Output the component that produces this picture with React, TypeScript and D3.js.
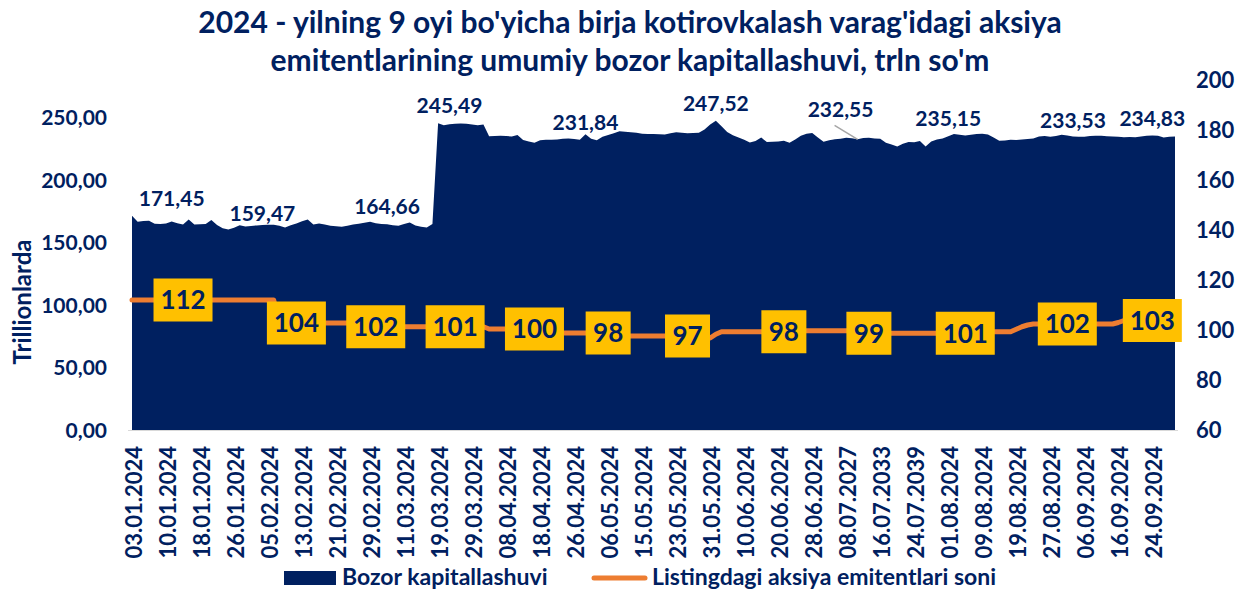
import React from "react";
import * as d3 from "d3";

const titleLines = [
  "2024 - yilning 9 oyi bo'yicha birja kotirovkalash varag'idagi aksiya",
  "emitentlarining umumiy bozor kapitallashuvi, trln so'm",
];

const tickLabels = [
  "03.01.2024", "10.01.2024", "18.01.2024", "26.01.2024", "05.02.2024", "13.02.2024",
  "21.02.2024", "29.02.2024", "11.03.2024", "19.03.2024", "29.03.2024", "08.04.2024",
  "18.04.2024", "26.04.2024", "06.05.2024", "15.05.2024", "23.05.2024", "31.05.2024",
  "10.06.2024", "20.06.2024", "28.06.2024", "08.07.2027", "16.07.2033", "24.07.2039",
  "01.08.2024", "09.08.2024", "19.08.2024", "27.08.2024", "06.09.2024", "16.09.2024",
  "24.09.2024",
];
const tickEvery = 6;

// Bozor kapitallashuvi, trln so'm (one value per trading day)
const capValues = [
  171.4, 166.6, 167.3, 167.5, 165.0, 164.8, 165.3, 166.8, 165.5, 164.5,
  168.5, 164.5, 164.6, 164.8, 168.0, 164.0, 161.5, 160.5, 161.9, 163.8,
  162.8, 163.3, 163.7, 164.0, 164.3, 164.3, 163.5, 162.1, 163.8, 165.3,
  167.0, 168.5, 164.5, 165.3, 164.5, 163.5, 163.0, 162.7, 163.5, 164.5,
  165.0, 165.8, 166.6, 165.5, 164.8, 164.7, 163.9, 163.5, 164.8, 166.0,
  163.6, 162.7, 162.1, 164.8, 245.5, 243.8, 244.6, 245.0, 245.2, 245.0,
  244.4, 243.8, 244.4, 235.0, 235.2, 235.4, 235.2, 234.8, 236.0, 232.0,
  230.8, 229.8, 231.8, 232.2, 232.3, 232.5, 233.0, 233.3, 232.8, 232.2,
  236.6, 233.0, 231.8, 234.6, 236.0, 237.5, 239.0, 238.6, 238.3, 237.8,
  237.0, 236.9, 236.8, 236.6, 236.4, 237.4, 238.3, 237.8, 237.4, 237.6,
  237.8, 240.5, 244.5, 247.5, 243.0, 238.5, 235.8, 234.0, 232.3, 230.0,
  231.2, 234.0, 230.4, 230.6, 230.8, 231.5, 229.8, 232.4, 235.5, 237.0,
  237.6, 234.0, 230.6, 231.8, 232.6, 233.0, 233.8, 233.4, 232.55, 233.6,
  233.8, 233.2, 233.0, 229.8, 228.5, 226.8, 229.0, 230.5, 230.2, 231.3,
  226.8, 230.8, 232.4, 233.2, 235.0, 236.9, 236.3, 235.6, 236.3, 236.9,
  237.0, 236.4, 234.0, 231.5, 231.6, 232.2, 232.0, 232.4, 232.8, 233.2,
  234.8, 235.2, 234.7, 235.3, 236.2, 235.6, 234.8, 234.6, 234.6, 235.2,
  235.5, 235.4, 235.1, 234.8, 234.6, 234.2, 234.4, 234.3, 234.8, 235.5,
  235.6, 235.4, 234.0, 234.6, 234.8,
];

// Listingdagi aksiya emitentlari soni
const issuerValues = [
  112, 112, 112, 112, 112, 112, 112, 112, 112, 112,
  112, 112, 112, 112, 112, 112, 112, 112, 112, 112,
  112, 112, 112, 112, 112, 112, 102.8, 102.8, 102.8, 102.8,
  102.8, 102.8, 102.8, 102.8, 102.8, 102.8, 102.8, 102.8, 102.8, 102.8,
  102.8, 101.3, 101.3, 101.3, 101.3, 101.3, 101.3, 101.3, 101.3, 101.3,
  101.3, 101.3, 101.3, 101.3, 101.3, 101.3, 101.3, 101.3, 101.3, 101.3,
  101.3, 101.3, 101.3, 100.4, 100.4, 100.4, 100.4, 100.4, 100.4, 100.4,
  100.4, 100.4, 100.4, 98.8, 98.8, 98.8, 98.8, 98.8, 98.8, 98.8,
  98.8, 98.8, 98.8, 98.8, 98.8, 98.8, 97.6, 97.6, 97.6, 97.6,
  97.6, 97.6, 97.6, 97.6, 97.6, 97.6, 97.6, 97.6, 97.6, 97.6,
  97.6, 97.6, 96.8, 98.3, 99.3, 99.3, 99.3, 99.3, 99.3, 99.3,
  99.3, 99.3, 99.3, 99.3, 99.3, 99.3, 99.3, 99.7, 99.7, 99.7,
  99.7, 99.7, 99.7, 99.7, 99.7, 99.7, 99.7, 99.7, 99.7, 99.7,
  98.7, 98.7, 98.7, 98.7, 98.7, 98.7, 98.7, 98.7, 98.7, 98.7,
  98.7, 98.7, 98.7, 98.7, 98.7, 98.7, 98.7, 98.7, 98.7, 98.7,
  98.7, 99.3, 99.3, 99.3, 99.3, 99.3, 100.3, 101.3, 102.0, 102.4,
  102.4, 102.4, 102.4, 102.4, 102.4, 102.4, 102.4, 102.4, 102.4, 102.4,
  102.4, 102.4, 102.4, 102.4, 103.0, 103.8, 103.8, 103.8, 103.8, 103.8,
  103.8, 103.8, 103.8, 103.8, 103.8,
];

const capLabelIndex = [7, 23, 45, 56, 80, 103, 125, 144, 166, 180];
const capLabelText = ["171,45", "159,47", "164,66", "245,49", "231,84", "247,52", "232,55", "235,15", "233,53", "234,83"];
const capLabelLeaderTo = [null, null, null, null, null, null, 128, null, null, null];

const issuerLabelIndex = [9, 29, 43, 57, 71, 84, 98, 115, 130, 147, 165, 180];
const issuerLabelText = ["112", "104", "102", "101", "100", "98", "97", "98", "99", "101", "102", "103"];

const leftTicks = [0, 50, 100, 150, 200, 250];
const rightTicks = [60, 80, 100, 120, 140, 160, 180, 200];

const legendNames = ["Bozor kapitallashuvi", "Listingdagi aksiya emitentlari soni"];

const W = 1240;
const H = 590;
const NAVY = "#002060";
const ORANGE = "#ED7D31";
const YELLOW = "#FFC000";
const FONT = "Lato, 'Open Sans', sans-serif";

export default function App() {
  const x = d3.scaleLinear().domain([0, capValues.length - 1]).range([132, 1175]);
  const yL = d3.scaleLinear().domain([0, 280]).range([430, 80]);
  const yR = d3.scaleLinear().domain([60, 200]).range([430, 80]);

  const areaGen = d3
    .area<number>()
    .x((_, i) => x(i))
    .y0(yL(0))
    .y1((d) => yL(d));
  const lineGen = d3
    .line<number>()
    .x((_, i) => x(i))
    .y((d) => yR(d));

  const fmtL = (v: number) => v.toFixed(2).replace(".", ",");
  const parseLab = (s: string) => parseFloat(s.replace(",", "."));

  const boxH = 43;

  return (
    <svg
      width={W}
      height={H}
      style={{ position: "absolute", left: 0, top: 0, display: "block", background: "#fff" }}
      fontFamily={FONT}
      fontWeight={700}
    >
      {/* title */}
      {titleLines.map((t, i) => (
        <text key={i} x={630} y={33 + i * 38} textAnchor="middle" fontSize={30} fill={NAVY}>
          {t}
        </text>
      ))}

      {/* area */}
      <path d={areaGen(capValues) || ""} fill={NAVY} />
      <line x1={128} x2={1178} y1={430.5} y2={430.5} stroke="#D9D9D9" strokeWidth={1} />

      {/* orange line */}
      <path
        d={lineGen(issuerValues) || ""}
        fill="none"
        stroke={ORANGE}
        strokeWidth={5}
        strokeLinecap="round"
        strokeLinejoin="round"
      />

      {/* issuer labels */}
      {issuerLabelIndex.map((idx, k) => {
        const t = issuerLabelText[k];
        const w = t.length === 2 ? 45 : 59;
        const cx = x(idx);
        const cy = yR(issuerValues[idx]);
        return (
          <g key={k}>
            <rect x={cx - w / 2} y={cy - boxH / 2} width={w} height={boxH} fill={YELLOW} />
            <text x={cx} y={cy} dy="0.36em" textAnchor="middle" fontSize={26} fill={NAVY}>
              {t}
            </text>
          </g>
        );
      })}

      {/* cap labels */}
      {capLabelIndex.map((idx, k) => {
        const v = parseLab(capLabelText[k]);
        const lt = capLabelLeaderTo[k];
        const by = yL(v) - (lt != null ? 22 : 10);
        return (
          <g key={k}>
            {lt != null && (
              <line
                x1={x(idx) - 6}
                y1={by + 8}
                x2={x(lt)}
                y2={yL(capValues[lt])}
                stroke="#A6A6A6"
                strokeWidth={1.5}
              />
            )}
            <text x={x(idx)} y={by} textAnchor="middle" fontSize={21} fill={NAVY}>
              {capLabelText[k]}
            </text>
          </g>
        );
      })}

      {/* left axis */}
      {leftTicks.map((v) => (
        <text key={v} x={107} y={yL(v)} dy="0.36em" textAnchor="end" fontSize={21} fill={NAVY}>
          {fmtL(v)}
        </text>
      ))}
      <text
        transform={`translate(22,302) rotate(-90)`}
        dy="0.36em"
        textAnchor="middle"
        fontSize={24}
        fill={NAVY}
      >
        Trillionlarda
      </text>

      {/* right axis */}
      {rightTicks.map((v) => (
        <text key={v} x={1196} y={yR(v)} dy="0.36em" textAnchor="start" fontSize={22} fill={NAVY}>
          {v}
        </text>
      ))}

      {/* x tick labels */}
      {tickLabels.map((t, k) => (
        <text
          key={k}
          transform={`translate(${x(k * tickEvery) + 2},446) rotate(-90)`}
          dy="0.36em"
          textAnchor="end"
          fontSize={22}
          fill={NAVY}
        >
          {t}
        </text>
      ))}

      {/* legend */}
      <rect x={284} y={571} width={52} height={14} fill={NAVY} />
      <text x={342} y={585} fontSize={23} fill={NAVY}>
        {legendNames[0]}
      </text>
      <line x1={594} x2={645} y1={578} y2={578} stroke={ORANGE} strokeWidth={5} strokeLinecap="round" />
      <text x={652} y={585} fontSize={23} fill={NAVY}>
        {legendNames[1]}
      </text>
    </svg>
  );
}
